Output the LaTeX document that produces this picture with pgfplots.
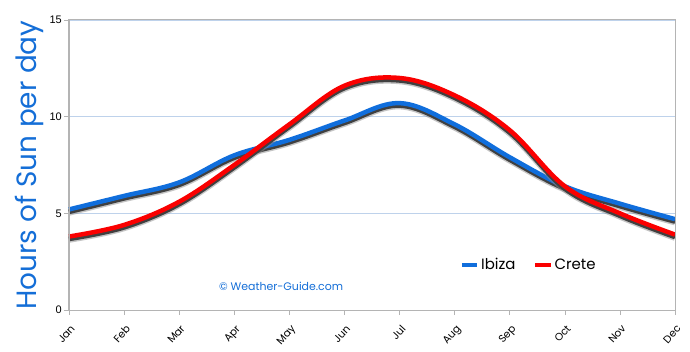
\documentclass[border=0pt]{standalone}
\usepackage{fontspec}
\setmainfont{Poppins}
\newfontfamily\tickfont{Liberation Sans}
\usepackage{pgfplots}
\pgfplotsset{compat=1.18}
\definecolor{ibiza}{RGB}{16,110,220}
\definecolor{crete}{RGB}{250,0,0}
\definecolor{labblue}{RGB}{20,110,215}
\definecolor{gridblue}{RGB}{190,210,235}
\definecolor{boxgray}{RGB}{180,180,180}
\begin{document}
\begin{tikzpicture}
\begin{axis}[
  scale only axis,
  width=606bp, height=290bp,
  xmin=0, xmax=11, ymin=0, ymax=15,
  xtick={0,...,11},
  xticklabels={Jan,Feb,Mar,Apr,May,Jun,Jul,Aug,Sep,Oct,Nov,Dec},
  x tick label style={font=\fontsize{10.5}{11}\selectfont, inner sep=0bp, xshift=1bp, yshift=-9bp, rotate=48, anchor=north east},
  ytick={0,5,10,15},
  yticklabel style={font=\tickfont\fontsize{11}{13}\selectfont, inner sep=2bp},
  /pgf/number format/assume math mode=true,
  tick align=outside, tickpos=left,
  major tick length=5bp,
  every tick/.style={boxgray, line width=0.6bp},
  axis line style={boxgray, line width=1bp},
  ymajorgrids, grid style={gridblue, line width=0.6bp},
  ylabel={Hours of Sun per day},
  ylabel style={font=\fontsize{28}{30}\selectfont, text=labblue, at={(rel axis cs:-0.066,0.5)}, anchor=center},
  legend style={draw=none, fill=none, at={(rel axis cs:0.64,0.155)}, anchor=west, font=\fontsize{15}{17}\selectfont, legend columns=2, /tikz/every even column/.append style={column sep=16bp}},
  legend image code/.code={\draw[#1, line width=3.5bp] (0cm,0cm) -- (0.55cm,0cm);},
  clip=false,
]
\coordinate (ll) at (rel axis cs:0,0);
\coordinate (ur) at (rel axis cs:1,1);
% shadows
\addplot[black!45, line width=6.5bp, smooth, tension=0.6, yshift=-3bp, opacity=0.5, forget plot] coordinates {(0,5.2)(1,5.9)(2,6.6)(3,8.0)(4,8.8)(5,9.8)(6,10.7)(7,9.6)(8,7.9)(9,6.4)(10,5.5)(11,4.7)};
\addplot[black!75, line width=4.5bp, smooth, tension=0.6, yshift=-2.5bp, forget plot] coordinates {(0,5.2)(1,5.9)(2,6.6)(3,8.0)(4,8.8)(5,9.8)(6,10.7)(7,9.6)(8,7.9)(9,6.4)(10,5.5)(11,4.7)};
\addplot[ibiza, line width=4.5bp, smooth, tension=0.6] coordinates {(0,5.2)(1,5.9)(2,6.6)(3,8.0)(4,8.8)(5,9.8)(6,10.7)(7,9.6)(8,7.9)(9,6.4)(10,5.5)(11,4.7)};
\addlegendentry{Ibiza}
\addplot[black!45, line width=6.5bp, smooth, tension=0.6, yshift=-3bp, opacity=0.5, forget plot] coordinates {(0,3.8)(1,4.4)(2,5.6)(3,7.5)(4,9.6)(5,11.6)(6,12.0)(7,11.1)(8,9.3)(9,6.4)(10,5.0)(11,3.9)};
\addplot[black!75, line width=4.5bp, smooth, tension=0.6, yshift=-2.5bp, forget plot] coordinates {(0,3.8)(1,4.4)(2,5.6)(3,7.5)(4,9.6)(5,11.6)(6,12.0)(7,11.1)(8,9.3)(9,6.4)(10,5.0)(11,3.9)};
\addplot[crete, line width=4.5bp, smooth, tension=0.6] coordinates {(0,3.8)(1,4.4)(2,5.6)(3,7.5)(4,9.6)(5,11.6)(6,12.0)(7,11.1)(8,9.3)(9,6.4)(10,5.0)(11,3.9)};
\addlegendentry{Crete}
\node[text=labblue, font=\fontsize{11}{13}\selectfont] at (rel axis cs:0.35,0.08) {© Weather-Guide.com};
\end{axis}
\draw[boxgray, line width=1bp] (ll) rectangle (ur);
\pgfresetboundingbox
\path ([shift={(-69bp,-42bp)}]ll) rectangle ([shift={(15bp,20bp)}]ur);
\end{tikzpicture}
\end{document}
